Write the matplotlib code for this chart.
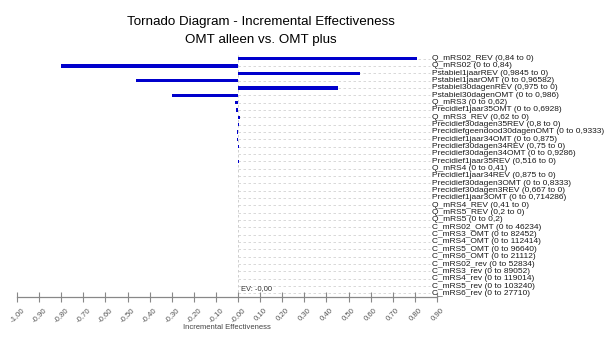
import matplotlib
matplotlib.use("Agg")
import matplotlib.pyplot as plt
import numpy as np

plt.rcParams['font.family'] = ['Liberation Sans', 'DejaVu Sans']

# tornado rows, top to bottom
labels = [
    "Q_mRS02_REV (0,84 to 0)",
    "Q_mRS02 (0 to 0,84)",
    "Pstabiel1jaarREV (0,9845 to 0)",
    "Pstabiel1jaarOMT (0 to 0,96582)",
    "Pstabiel30dagenREV (0,975 to 0)",
    "Pstabiel30dagenOMT (0 to 0,986)",
    "Q_mRS3 (0 to 0,62)",
    "Precidief1jaar35OMT (0 to 0,6928)",
    "Q_mRS3_REV (0,62 to 0)",
    "Precidief30dagen35REV (0,8 to 0)",
    "Precidiefgeendood30dagenOMT (0 to 0,9333)",
    "Precidief1jaar34OMT (0 to 0,875)",
    "Precidief30dagen34REV (0,75 to 0)",
    "Precidief30dagen34OMT (0 to 0,9286)",
    "Precidief1jaar35REV (0,516 to 0)",
    "Q_mRS4 (0 to 0,41)",
    "Precidief1jaar34REV (0,875 to 0)",
    "Precidief30dagen3OMT (0 to 0,8333)",
    "Precidief30dagen3REV (0,667 to 0)",
    "Precidief1jaar3OMT (0 to 0,714286)",
    "Q_mRS4_REV (0,41 to 0)",
    "Q_mRS5_REV (0,2 to 0)",
    "Q_mRS5 (0 to 0,2)",
    "C_mRS02_OMT (0 to 46234)",
    "C_mRS3_OMT (0 to 82452)",
    "C_mRS4_OMT (0 to 112414)",
    "C_mRS5_OMT (0 to 96640)",
    "C_mRS6_OMT (0 to 21112)",
    "C_mRS02_rev (0 to 52834)",
    "C_mRS3_rev (0 to 89052)",
    "C_mRS4_rev (0 to 119014)",
    "C_mRS5_rev (0 to 103240)",
    "C_mRS6_rev (0 to 27710)",
]
# incremental effectiveness swing per row (relative to EV)
swing = [
    0.81, -0.80, 0.552, -0.46, 0.452, -0.30,
    -0.012, -0.009, 0.009, 0.006, -0.004, -0.004, 0.004, -0.002,
    0.004, -0.002, 0.002, -0.001, 0.001, -0.001, 0.001, 0.0005, -0.0005,
    0, 0, 0, 0, 0, 0, 0, 0, 0, 0,
]
xticks = np.round(np.arange(-1.0, 0.91, 0.1), 2)
ev = -0.0

fig = plt.figure(figsize=(6.05, 3.4), dpi=100)
ax = fig.add_axes([17 / 605, 1 - 297 / 340, 420 / 605, 242 / 340])

n = len(labels)
rows = np.arange(n)

ax.hlines(rows, 0, 0.867, colors='#d2d2d2', linestyles=(0, (3, 3)), lw=0.6, zorder=0)
ax.axvline(0, color='#c8c8c8', ls=(0, (3, 3)), lw=0.6, zorder=0)
ax.barh(rows, swing, height=0.48, color='#0000cc', zorder=2)

for i, lab in enumerate(labels):
    ax.text(0.877, i, lab, va='center', ha='left', fontsize=6.0, color='#1a1a1a')

ax.set_xlim(-1.0, 0.9)
ax.set_ylim(n - 0.5, -0.5)
ax.set_yticks([])
for s in ['left', 'top', 'right']:
    ax.spines[s].set_visible(False)
ax.spines['bottom'].set_color('#888888')
ax.spines['bottom'].set_linewidth(0.9)

ax.set_xticks(xticks)
ax.set_xticklabels([f"{v:.2f}".replace('.', ',') for v in xticks],
                   rotation=45, ha='center', va='top')
ax.tick_params(axis='x', direction='inout', length=7, width=0.8, color='#888888',
               labelsize=5.6, labelcolor='#555555', pad=3)

ax.set_xlabel("Incremental Effectiveness", fontsize=5.5, color='#444444')
ax.xaxis.set_label_coords(0.5, -0.112)

ax.text(0.014, 0.029, "EV: -" + f"{abs(ev):.2f}".replace('.', ','),
        transform=ax.get_xaxis_transform(), fontsize=5.4, color='#333333', va='baseline')

fig.text(261 / 605, 1 - 25.3 / 340, "Tornado Diagram - Incremental Effectiveness",
         ha='center', va='baseline', fontsize=9.6)
fig.text(261 / 605, 1 - 43.3 / 340, "OMT alleen vs. OMT plus",
         ha='center', va='baseline', fontsize=9.6)

fig.savefig("out.png", dpi=100)
